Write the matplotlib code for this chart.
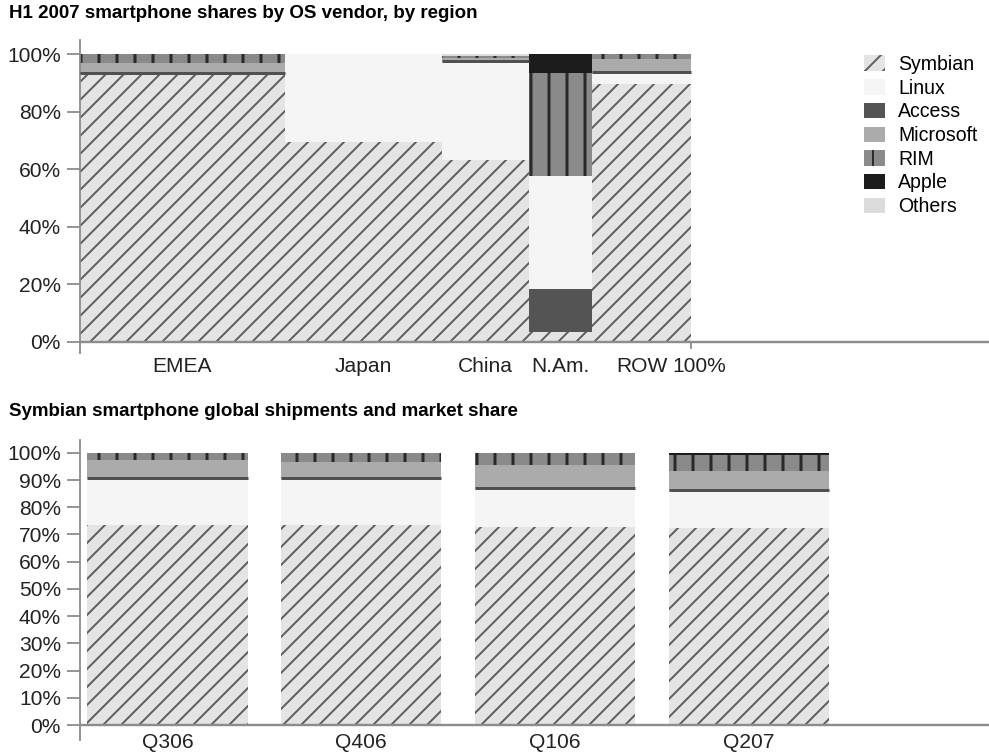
import numpy as np
import matplotlib.pyplot as plt

plt.rcParams['font.family'] = ['Liberation Sans', 'DejaVu Sans']
plt.rcParams['hatch.linewidth'] = 1.3

# --- H1 2007 shares by region (Marimekko: width = region share of total) ---
regions = ['EMEA', 'Japan', 'China', 'N.Am.', 'ROW']
region_width = [33.5, 25.8, 14.2, 10.3, 16.2]

symbian_region = [93.1, 69.4, 63.2, 3.2, 89.8]
linux_region = [0.0, 30.6, 34.1, 39.3, 3.9]
access_region = [0.0, 0.0, 0.0, 15.0, 0.0]
microsoft_region = [4.1, 0.0, 1.6, 0.0, 4.7]
rim_region = [2.8, 0.0, 0.6, 36.1, 1.6]
apple_region = [0.0, 0.0, 0.0, 6.4, 0.0]
others_region = [0.0, 0.0, 0.5, 0.0, 0.0]

# --- Symbian global shipments and market share by quarter ---
quarters = ['Q306', 'Q406', 'Q106', 'Q207']
symbian_q = [73.4, 73.4, 72.6, 72.4]
linux_q = [17.2, 16.9, 14.0, 13.5]
access_q = [0.0, 0.0, 0.0, 0.0]
microsoft_q = [6.9, 6.2, 9.0, 7.5]
rim_q = [2.5, 3.5, 4.4, 5.8]
apple_q = [0.0, 0.0, 0.0, 0.8]
others_q = [0.0, 0.0, 0.0, 0.0]

vendors = ['Symbian', 'Linux', 'Access', 'Microsoft', 'RIM', 'Apple', 'Others']
stack_order = ['Symbian', 'Access', 'Linux', 'Microsoft', 'RIM', 'Apple', 'Others']

region_data = dict(zip(vendors, [symbian_region, linux_region, access_region,
                                 microsoft_region, rim_region, apple_region, others_region]))
quarter_data = dict(zip(vendors, [symbian_q, linux_q, access_q,
                                  microsoft_q, rim_q, apple_q, others_q]))

styles = {
    'Symbian': dict(color='#e4e4e4', edgecolor='#5e5e5e', hatch='//', lw=0),
    'Linux': dict(color='#f5f5f5', lw=0),
    'Access': dict(color='#545454', lw=0),
    'Microsoft': dict(color='#ababab', lw=0),
    'RIM': dict(color='#8a8a8a', edgecolor='#2a2a2a', hatch='|', lw=0),
    'Apple': dict(color='#1c1c1c', lw=0),
    'Others': dict(color='#dcdcdc', lw=0),
}
hatch_lw = {'Symbian': 1.3, 'RIM': 2.0}

AX_GRAY = '#8c8c8c'
FS = 14


def style_axis(ax, ylo, yhi, step):
    ax.set_ylim(ylo, yhi)
    ticks = np.arange(0, 101, step)
    ax.set_yticks(ticks)
    ax.set_yticklabels([f'{t}%' for t in ticks])
    for s in ['top', 'right', 'bottom']:
        ax.spines[s].set_visible(False)
    ax.spines['left'].set_color(AX_GRAY)
    ax.spines['left'].set_linewidth(1.2)
    ax.tick_params(axis='y', length=8.7, width=1.2, color=AX_GRAY, pad=4,
                   labelsize=FS, labelcolor='#222222')
    ax.set_xticks([])
    ax.axhline(0, color=AX_GRAY, lw=1.6, zorder=5)
    ax.patch.set_alpha(0)


def draw_stack(ax, x, widths, data, align):
    handles = {}
    bottom = np.zeros(len(x))
    for v in stack_order:
        vals = np.array(data[v])
        with plt.rc_context({'hatch.linewidth': hatch_lw.get(v, 1.3)}):
            bars = ax.bar(x, vals, width=widths, bottom=bottom, align=align, **styles[v])
        handles[v] = bars
        if v == 'Microsoft':
            lefts = np.array(x) if align == 'edge' else np.array(x) - np.array(widths) / 2
            for l, w, b, val in zip(lefts, np.broadcast_to(widths, len(x)), bottom, vals):
                if val > 0:
                    ax.hlines(b + 0.3, l, l + w, colors='#505050', lw=2, zorder=3)
        bottom += vals
    return handles


fig = plt.figure(figsize=(990 / 108, 754 / 108), dpi=108)
ax1 = fig.add_axes([80 / 990, 1 - 352.7 / 754, 910 / 990, 312.7 / 754])
ax2 = fig.add_axes([80 / 990, 1 - 740 / 754, 910 / 990, 300 / 754])

# top chart
widths = np.array(region_width)
lefts = np.cumsum(widths) - widths
style_axis(ax1, -3.9, 105.05, 20)
ax1.set_xlim(0, 148.9)
handles = draw_stack(ax1, lefts, widths, region_data, 'edge')
for xc, name in zip(lefts + widths / 2, regions):
    ax1.annotate(name, (xc, 0), xytext=(0, -30), textcoords='offset pixels',
                 ha='center', va='baseline', fontsize=FS, color='#222222')
ax1.annotate('100%', (100, 0), xytext=(8, -30), textcoords='offset pixels',
             ha='center', va='baseline', fontsize=FS, color='#222222')
ax1.plot([100, 100], [0, -2.4], color=AX_GRAY, lw=1.2, clip_on=False)

ax1.legend([handles[v] for v in vendors], vendors, loc='upper left',
           bbox_to_anchor=(0.8615, 0.952), frameon=False, fontsize=13,
           handlelength=1.1, handleheight=0.85, labelspacing=0.24,
           handletextpad=0.65, borderpad=0, borderaxespad=0)

# bottom chart
xq = np.arange(len(quarters))
style_axis(ax2, -5.5, 104.7, 10)
ax2.set_xlim(-0.4515, 4.244)
draw_stack(ax2, xq, 0.826, quarter_data, 'center')
for xc, name in zip(xq, quarters):
    ax2.annotate(name, (xc, 0), xytext=(0, -23), textcoords='offset pixels',
                 ha='center', va='baseline', fontsize=FS, color='#222222')

fig.text(9 / 990, 1 - 14 / 754, 'H1 2007 smartphone shares by OS vendor, by region',
         fontsize=12.5, fontweight='bold', va='center')
fig.text(9 / 990, 1 - 412 / 754, 'Symbian smartphone global shipments and market share',
         fontsize=12.5, fontweight='bold', va='center')

fig.savefig('out.png', dpi=108)
